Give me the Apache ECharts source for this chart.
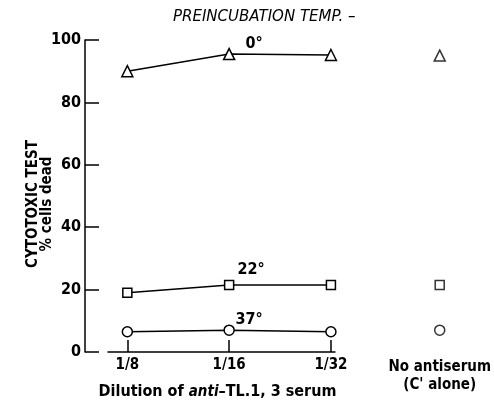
<!DOCTYPE html>
<html>
<head>
<meta charset="utf-8">
<script src="https://cdn.jsdelivr.net/npm/echarts@6/dist/echarts.min.js"></script>
<style>
  html, body { margin: 0; padding: 0; background: #fff; }
  #chart { width: 494px; height: 405px; }
</style>
</head>
<body>
<div id="chart"></div>
<script>
var dilutions = ["1/8", "1/16", "1/32"];
var controlLabel = "No antiserum\n(C' alone)";
var yTicks = [0, 20, 40, 60, 80, 100];

var temp0 = [90, 95.5, 95.2];
var temp22 = [19, 21.5, 21.5];
var temp37 = [6.5, 7, 6.5];

var control0 = [95];
var control22 = [21.5];
var control37 = [7];

var font = "'Liberation Sans Narrow', 'DejaVu Sans Condensed', 'Liberation Sans', sans-serif";

var chart = echarts.init(document.getElementById("chart"));

function pts(vals, label, offset) {
  return vals.map(function (v, i) {
    var item = { value: [i, v] };
    if (i === 1) {
      item.label = {
        show: true,
        formatter: label,
        position: "top",
        distance: 0,
        offset: offset,
        color: "#000",
        fontFamily: font,
        fontWeight: "bold",
        fontSize: 16
      };
    }
    return item;
  });
}

function lineSeries(name, vals, symbol, size, offset) {
  return {
    name: name,
    type: "line",
    xAxisIndex: 0,
    yAxisIndex: 0,
    data: pts(vals, name, offset),
    symbol: symbol,
    symbolSize: size,
    showAllSymbol: true,
    lineStyle: { color: "#000", width: 1.5 },
    itemStyle: { color: "#fff", borderColor: "#000", borderWidth: 1.5 },
    z: 3
  };
}

function controlSeries(vals, symbol, size) {
  return {
    type: "scatter",
    xAxisIndex: 1,
    yAxisIndex: 1,
    data: vals,
    symbol: symbol,
    symbolSize: size,
    itemStyle: { color: "#fff", borderColor: "#000", borderWidth: 1.5 }
  };
}

chart.setOption({
  animation: false,
  backgroundColor: "#fff",
  title: {
    text: "PREINCUBATION TEMP. \u2013",
    left: 168,
    top: 5,
    textStyle: {
      fontFamily: "'DejaVu Sans', sans-serif",
      fontStyle: "italic",
      fontWeight: "normal",
      fontSize: 15,
      color: "#000"
    }
  },
  grid: [
    { left: 108, right: 159, top: 40, bottom: 53 },
    { left: 420, width: 44, top: 40, bottom: 53 }
  ],
  xAxis: [
    {
      type: "value",
      gridIndex: 0,
      min: -0.19,
      max: 2.04,
      axisLine: { onZero: false, lineStyle: { color: "#000", width: 1.5 } },
      axisTick: { show: true, inside: true, length: 12, customValues: [0, 1, 2], lineStyle: { color: "#000", width: 1.5 } },
      axisLabel: {
        customValues: [0, 1, 2],
        formatter: function (v) { return dilutions[Math.round(v)]; },
        margin: 6,
        color: "#000",
        fontFamily: font,
        fontWeight: "bold",
        fontSize: 15
      },
      splitLine: { show: false },
      name: "{a|Dilution of }{b|anti}{a|\u2013TL.1, 3 serum}",
      nameLocation: "middle",
      nameGap: 32,
      nameTextStyle: {
        padding: [0, 8, 0, 0],
        rich: {
          a: { fontFamily: font, fontWeight: "bold", fontSize: 16, color: "#000" },
          b: { fontFamily: font, fontStyle: "italic", fontWeight: "bold", fontSize: 15, color: "#000" }
        }
      }
    },
    {
      type: "category",
      gridIndex: 1,
      data: [controlLabel],
      axisLine: { show: false },
      axisTick: { show: false },
      axisLabel: {
        margin: 6,
        color: "#000",
        fontFamily: font,
        fontWeight: "bold",
        fontSize: 15,
        lineHeight: 18
      }
    }
  ],
  yAxis: [
    {
      type: "value",
      gridIndex: 0,
      min: 0,
      max: 100,
      interval: 20,
      offset: 23,
      axisLine: { show: true, onZero: false, lineStyle: { color: "#000", width: 1.5 } },
      axisTick: { show: true, inside: true, length: 14, lineStyle: { color: "#000", width: 1.5 } },
      axisLabel: {
        margin: 4,
        color: "#000",
        fontFamily: font,
        fontWeight: "bold",
        fontSize: 16,
        formatter: function (v) { return yTicks.indexOf(v) >= 0 ? String(v) : ""; }
      },
      splitLine: { show: false },
      name: "{a|CYTOTOXIC TEST}\n{b|% cells dead}",
      nameLocation: "middle",
      nameRotate: 90,
      nameGap: 31,
      nameMoveOverlap: false,
      nameTextStyle: {
        padding: [0, 16, 0, 0],
        rich: {
          a: { fontFamily: font, fontWeight: "bold", fontSize: 15, color: "#000", lineHeight: 14 },
          b: { fontFamily: font, fontWeight: "bold", fontSize: 15, color: "#000", lineHeight: 14 }
        }
      }
    },
    {
      type: "value",
      gridIndex: 1,
      min: 0,
      max: 100,
      show: false
    }
  ],
  series: [
    lineSeries("0\u00b0", temp0, "triangle", 11, [25, 4.5]),
    lineSeries("22\u00b0", temp22, "rect", 9, [22, -1.5]),
    lineSeries("37\u00b0", temp37, "circle", 10, [20, 3]),
    controlSeries(control0, "triangle", 11),
    controlSeries(control22, "rect", 9),
    controlSeries(control37, "circle", 10)
  ]
});
</script>
</body>
</html>
